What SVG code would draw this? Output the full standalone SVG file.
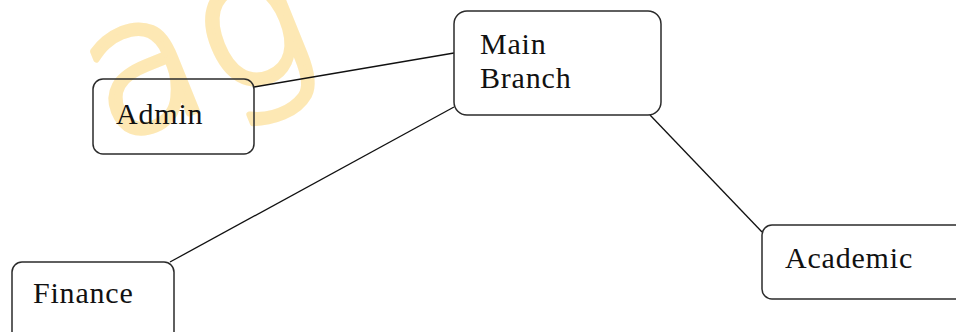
<svg xmlns="http://www.w3.org/2000/svg" width="956" height="332" viewBox="0 0 956 332">
<style>
.box{fill:none;stroke:#2b2b2b;stroke-width:1.5}
.lbl{font-family:"Liberation Serif","Times New Roman",serif;font-size:30px;fill:#111;letter-spacing:0.8px}
.edge{stroke:#111;stroke-width:1.3;fill:none}
.wm{font-family:"DejaVu Sans",sans-serif;font-weight:200;font-size:185px;fill:#fde8b4;stroke:#fde8b4;stroke-width:6;stroke-linejoin:round}
</style>
<rect width="956" height="332" fill="#fff"/>
<text class="wm" x="111" y="145" letter-spacing="4" transform="rotate(-22 111 145)">ag</text>
<g id="connectors">
<line class="edge" x1="254" y1="87" x2="454" y2="53"/>
<line class="edge" x1="454" y1="107" x2="170" y2="262"/>
<line class="edge" x1="650" y1="115" x2="762" y2="232"/>
</g>
<g id="main-branch">
<rect class="box" x="454" y="11" width="207" height="104" rx="13"/>
<text class="lbl" x="480" y="54">Main</text>
<text class="lbl" x="480" y="88">Branch</text>
</g>
<g id="admin">
<rect class="box" x="93" y="79" width="161" height="75" rx="10"/>
<text class="lbl" x="116" y="124" letter-spacing="1.5">Admin</text>
</g>
<g id="finance">
<rect class="box" x="12" y="262" width="162" height="90" rx="10"/>
<text class="lbl" x="33" y="303">Finance</text>
</g>
<g id="academic">
<rect class="box" x="762" y="225" width="210" height="74" rx="10"/>
<text class="lbl" x="785" y="268">Academic</text>
</g>
</svg>
